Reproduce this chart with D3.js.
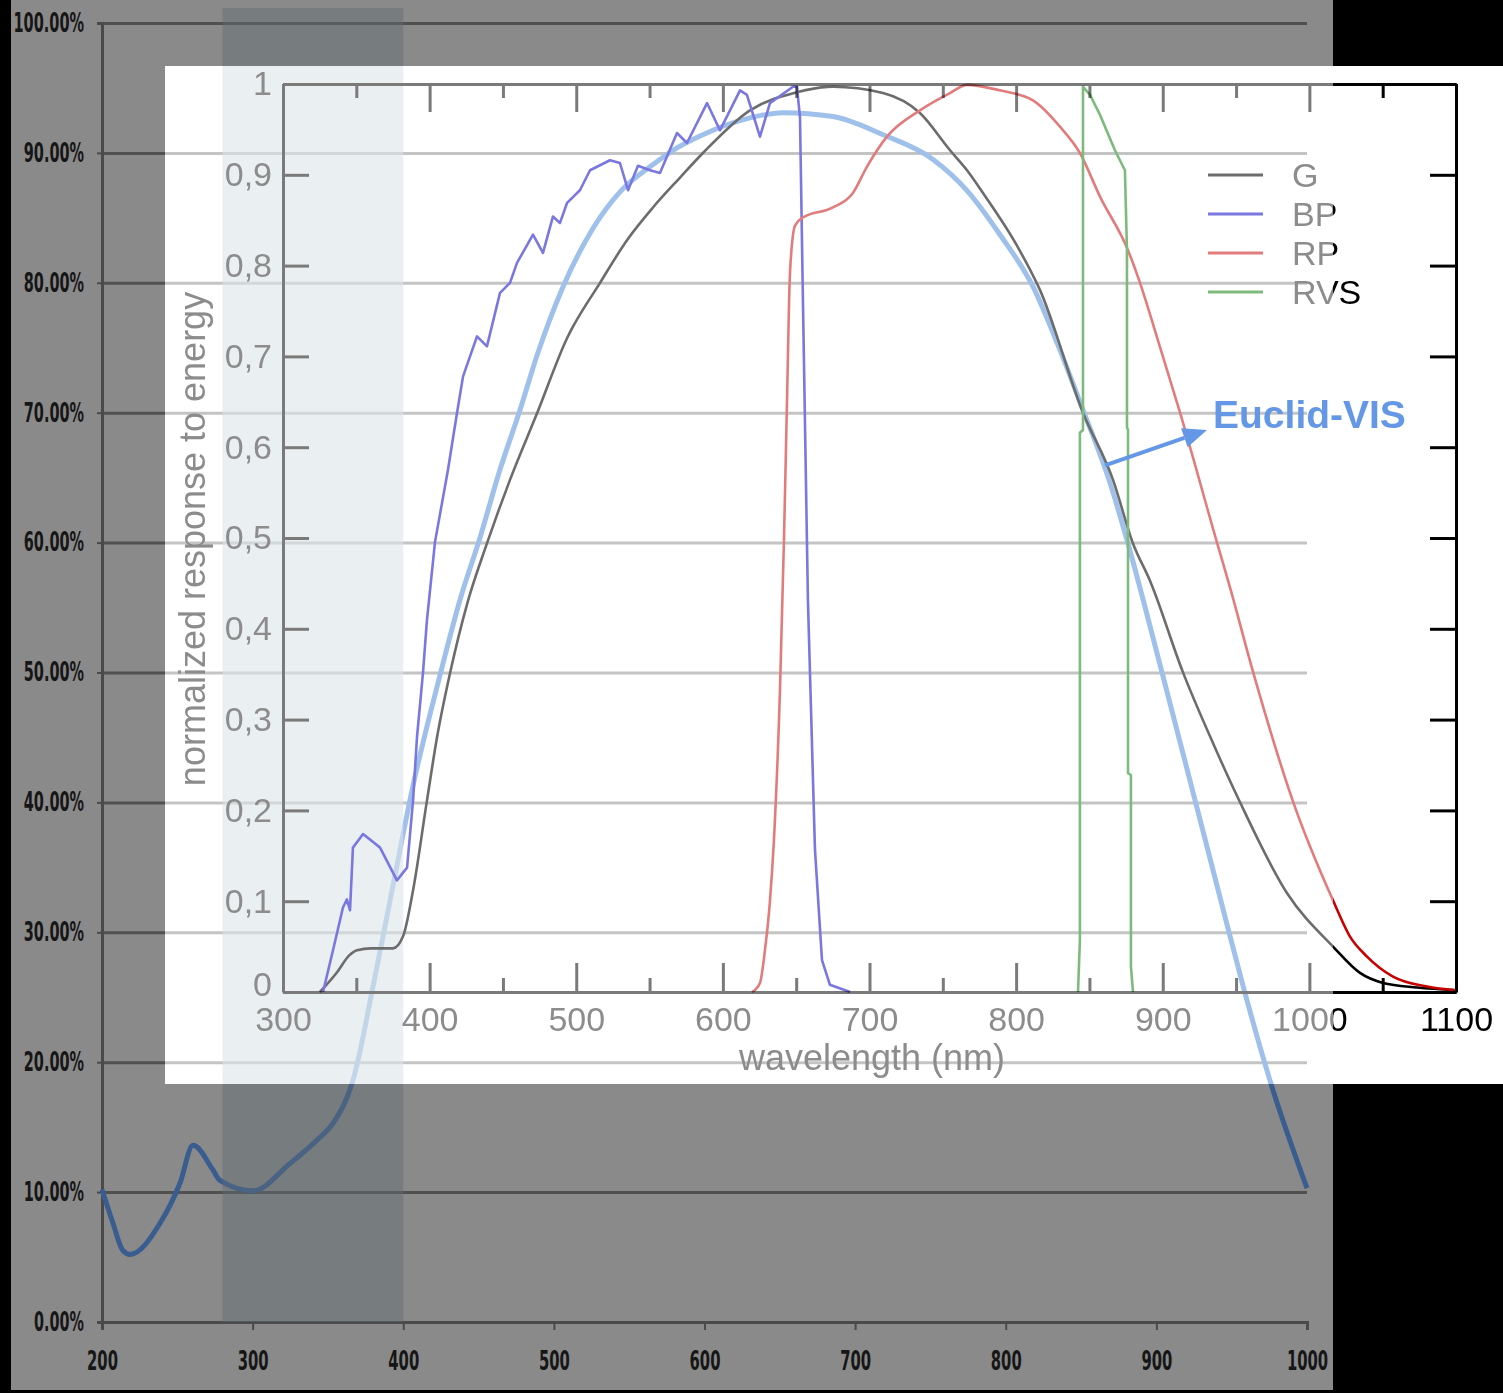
<!DOCTYPE html>
<html>
<head>
<meta charset="utf-8">
<script src="https://cdn.jsdelivr.net/npm/d3@7"></script>
<style>
  html, body { margin: 0; padding: 0; background: #000; }
  svg { display: block; }
</style>
</head>
<body>
<script>
// ---- data ----
// background chart: Euclid VIS response (%), 200-1000 nm
var euclidNm = [200, 207.3, 213.9, 218.6, 238.5, 251.8, 260.4, 273.7, 278.3, 300.2, 324.8, 342.7, 353.4, 362.7, 366.6, 379.9, 393.2, 406.5, 424.4, 437.7, 451, 464.2, 477.5, 488.8, 506.1, 526, 543.9, 565.8, 579.1, 597, 630.2, 652.1, 685.3, 718.5, 751.7, 774.3, 796.2, 818.1, 834.7, 851.3, 869.2, 880.5, 902.4, 925.6, 946.9, 957.5, 975.4, 1000];
var euclidQE = [10.2, 7.6, 5.5, 5.2, 7.6, 10.7, 13.6, 11.7, 10.9, 10.1, 12.2, 14.0, 15.3, 17.3, 18.6, 25.8, 33.6, 41.3, 49.8, 55.6, 60.4, 65.6, 70.2, 74.4, 79.7, 84.2, 87.0, 89.1, 90.2, 91.3, 92.7, 93.1, 92.8, 91.4, 89.5, 87.1, 83.7, 79.7, 75.2, 70.2, 64.6, 60.2, 50.6, 40.2, 30.6, 25.9, 18.6, 10.3];
var bandRange = [280, 400];
var outerXTicks = [200, 300, 400, 500, 600, 700, 800, 900, 1000];
var outerYTicks = [0, 10, 20, 30, 40, 50, 60, 70, 80, 90, 100];

// inset chart: Gaia passbands (normalized response to energy)
var gNm = [325.2, 337, 345, 350.5, 360, 375, 381.8, 388.7, 398.2, 405, 413.9, 425.5, 439.1, 454.8, 473.2, 493.7, 516.2, 534.6, 552.3, 570.8, 586.4, 618.5, 650.5, 675.1, 709.2, 734.4, 754.9, 766.5, 777.4, 800.6, 816.3, 845.6, 866.1, 879.7, 891.3, 913.8, 934.3, 952.7, 984.7, 1016.1, 1034.5, 1050.2, 1073.4, 1100];
var gVal = [0, 0.022, 0.04, 0.046, 0.048, 0.048, 0.061, 0.112, 0.211, 0.28, 0.351, 0.427, 0.494, 0.564, 0.637, 0.72, 0.781, 0.828, 0.864, 0.897, 0.924, 0.971, 0.991, 0.997, 0.99, 0.968, 0.927, 0.905, 0.88, 0.822, 0.773, 0.638, 0.564, 0.494, 0.453, 0.352, 0.274, 0.209, 0.109, 0.05, 0.021, 0.01, 0.005, 0.002];
var bpNm = [327.3, 334.1, 340.9, 343.6, 345.7, 347.7, 354.6, 366.2, 377.7, 384.6, 388.7, 391.4, 395.5, 398.2, 403.7, 412.5, 418.7, 422.8, 432.3, 439.1, 448, 454.8, 459.6, 470.5, 477.3, 484.1, 488.9, 493.7, 502.5, 509.4, 523, 529.8, 535.3, 542.1, 550.3, 557.1, 568.7, 575.5, 589.2, 598, 611.7, 616.4, 625.3, 632.1, 647.8, 650.5, 652.6, 654.6, 658, 662.8, 667.6, 673, 686.7];
var bpVal = [0, 0.046, 0.093, 0.102, 0.09, 0.159, 0.174, 0.159, 0.123, 0.137, 0.211, 0.281, 0.352, 0.41, 0.496, 0.575, 0.638, 0.678, 0.722, 0.711, 0.77, 0.781, 0.803, 0.834, 0.814, 0.854, 0.847, 0.869, 0.883, 0.905, 0.916, 0.913, 0.883, 0.91, 0.905, 0.902, 0.946, 0.935, 0.979, 0.949, 0.993, 0.988, 0.942, 0.979, 0.997, 0.997, 0.963, 0.762, 0.432, 0.157, 0.035, 0.008, 0];
var rpNm = [619.9, 625.3, 628.7, 632.1, 635.5, 638.9, 641.7, 643.7, 645.8, 649.2, 654.6, 675.1, 688.7, 698.3, 711.9, 734.4, 754.9, 766.5, 789, 811.5, 829.9, 843.5, 857.2, 876.3, 884.5, 896.1, 911.8, 937, 945.8, 961.5, 988.8, 1016.1, 1027.7, 1039.3, 1057, 1080.2, 1100];
var rpVal = [0, 0.01, 0.046, 0.1, 0.189, 0.33, 0.5, 0.648, 0.793, 0.844, 0.853, 0.864, 0.88, 0.909, 0.942, 0.971, 0.99, 0.999, 0.993, 0.982, 0.953, 0.924, 0.876, 0.817, 0.781, 0.721, 0.638, 0.495, 0.446, 0.353, 0.21, 0.101, 0.061, 0.039, 0.017, 0.006, 0.002];
var rvsNm = [842.2, 843.5, 843.5, 843.5, 845.6, 845.6, 850.4, 857.2, 867.4, 874.2, 875.6, 875.6, 876.3, 876.3, 878.3, 878.3, 879.7];
var rvsVal = [0, 0.057, 0.12, 0.616, 0.619, 0.997, 0.988, 0.966, 0.927, 0.905, 0.817, 0.622, 0.619, 0.241, 0.239, 0.028, 0];
var innerXTicks = [300, 400, 500, 600, 700, 800, 900, 1000, 1100];
var innerXMinor = [350, 450, 550, 650, 750, 850, 950, 1050];
var innerYTicks = [0, 0.1, 0.2, 0.3, 0.4, 0.5, 0.6, 0.7, 0.8, 0.9, 1];
var legendNames = ["G", "BP", "RP", "RVS"];
// annotation: arrow from curve to label, in inset coordinates
var arrowFrom = [860.6, 0.58], arrowTo = [930.2, 0.619];
var noteLabel = "Euclid-VIS";

var W = 1503, H = 1393;
var svg = d3.select("body").append("svg").attr("width", W).attr("height", H);
var defs = svg.append("defs");

function addClip(id, x, y, w, h) {
  defs.append("clipPath").attr("id", id).append("rect")
    .attr("x", x).attr("y", y).attr("width", w).attr("height", h);
}
var panel = {x: 165, y: 66, w: 1338, h: 1018};
var split = 1333;
addClip("panelClip", panel.x, panel.y, panel.w, panel.h);
addClip("leftClip", panel.x, panel.y, split - panel.x, panel.h);
addClip("rightClip", split, panel.y, W - split, panel.h);

svg.append("rect").attr("width", W).attr("height", H).attr("fill", "#000");
svg.append("rect").attr("x", 11).attr("y", 0).attr("width", split - 11).attr("height", 1390).attr("fill", "#8a8a8a");

// ---- background chart ----
var ox = d3.scaleLinear().domain([200, 1000]).range([102, 1307]);
var oy = d3.scaleLinear().domain([0, 100]).range([1322, 23]);
var euclid = euclidNm.map(function(n, i) { return [n, euclidQE[i]]; });
var euclidLine = d3.line()
  .x(function(d) { return ox(d[0]); })
  .y(function(d) { return oy(d[1]); })
  .curve(d3.curveMonotoneX);

function outerGrid(g, color) {
  var grid = g.append("g").attr("transform", "translate(" + ox(200) + ",0)")
    .call(d3.axisLeft(oy).tickValues(outerYTicks).tickSize(-(ox(1000) - ox(200))).tickFormat(""));
  grid.select(".domain").remove();
  grid.selectAll("line").attr("stroke", color).attr("stroke-width", 3);
}
function band(g, color, op) {
  g.append("rect").attr("x", ox(bandRange[0])).attr("width", ox(bandRange[1]) - ox(bandRange[0]))
    .attr("y", 8).attr("height", oy(0) - 8).attr("fill", color).attr("fill-opacity", op);
}

var outer = svg.append("g");
outerGrid(outer, "#505050");
var yAx = outer.append("g").attr("transform", "translate(" + ox(200) + ",0)")
  .call(d3.axisLeft(oy).tickValues(outerYTicks).tickSize(5).tickPadding(13)
    .tickFormat(function(d) { return d.toFixed(2) + "%"; }));
var xAx = outer.append("g").attr("transform", "translate(0," + oy(0) + ")")
  .call(d3.axisBottom(ox).tickValues(outerXTicks).tickSize(8).tickPadding(22).tickFormat(d3.format("d")));
[yAx, xAx].forEach(function(a) {
  a.attr("font-family", "'Liberation Sans Narrow', 'DejaVu Sans Condensed', 'Liberation Sans', sans-serif")
   .attr("font-size", 26).attr("font-weight", "bold");
  a.selectAll("line").attr("stroke", "#4a4a4a").attr("stroke-width", 2);
  a.select(".domain").attr("stroke", "#4a4a4a").attr("stroke-width", 3);
  a.selectAll("text").attr("fill", "#161616").attr("lengthAdjust", "spacingAndGlyphs")
    .attr("textLength", function() {
      var s = this.textContent, w = 0;
      for (var k = 0; k < s.length; k++) w += s[k] === "." ? 5 : (s[k] === "%" ? 14 : 10.3);
      return w;
    });
});
outer.append("path").datum(euclid).attr("d", euclidLine)
  .attr("fill", "none").attr("stroke", "#3a5d90").attr("stroke-width", 5);
band(outer, "#5f6a70", 0.45);

// ---- inset panel ----
svg.append("rect").attr("x", panel.x).attr("y", panel.y).attr("width", panel.w).attr("height", panel.h).attr("fill", "#fff");
var faded = svg.append("g").attr("clip-path", "url(#panelClip)");
outerGrid(faded, "#c4c4c4");
faded.append("path").datum(euclid).attr("d", euclidLine)
  .attr("fill", "none").attr("stroke", "#9ec0ea").attr("stroke-width", 5);
band(faded, "#dce4e8", 0.6);

var ix = d3.scaleLinear().domain([300, 1100]).range([283, 1456]);
var iy = d3.scaleLinear().domain([0, 1]).range([992, 84]);

function pairs(xs, ys) { return xs.map(function(n, i) { return [n, ys[i]]; }); }
var series = [
  {name: "G", data: pairs(gNm, gVal), key: "g", curve: d3.curveMonotoneX},
  {name: "BP", data: pairs(bpNm, bpVal), key: "bp", curve: d3.curveLinear},
  {name: "RP", data: pairs(rpNm, rpVal), key: "rp", curve: d3.curveMonotoneX},
  {name: "RVS", data: pairs(rvsNm, rvsVal), key: "rvs", curve: d3.curveLinear}
];

function drawGaia(g, pal) {
  var font = "'Liberation Sans', Arial, Helvetica, sans-serif";
  function style(a) {
    a.attr("font-family", font).attr("font-size", 34);
    a.select(".domain").attr("stroke", pal.axis).attr("stroke-width", 3);
    a.selectAll("line").attr("stroke", pal.axis).attr("stroke-width", 3);
    a.selectAll("text").attr("fill", pal.text);
  }
  var comma = function(d) { return d === 0 ? "0" : (d === 1 ? "1" : d.toFixed(1).replace(".", ",")); };

  style(g.append("g").attr("transform", "translate(0," + iy(0) + ")")
    .call(d3.axisBottom(ix).tickValues(innerXTicks).tickSize(-29).tickSizeOuter(0).tickPadding(15).tickFormat(d3.format("d"))));
  style(g.append("g").attr("transform", "translate(0," + iy(0) + ")")
    .call(d3.axisBottom(ix).tickValues(innerXMinor).tickSize(-14).tickSizeOuter(0).tickFormat("")));
  style(g.append("g").attr("transform", "translate(0," + iy(1) + ")")
    .call(d3.axisTop(ix).tickValues(innerXTicks).tickSize(-28).tickSizeOuter(0).tickFormat("")));
  style(g.append("g").attr("transform", "translate(0," + iy(1) + ")")
    .call(d3.axisTop(ix).tickValues(innerXMinor).tickSize(-14).tickSizeOuter(0).tickFormat("")));
  var left = g.append("g").attr("transform", "translate(" + ix(300) + ",0)")
    .call(d3.axisLeft(iy).tickValues(innerYTicks).tickSize(-26).tickSizeOuter(0).tickPadding(11).tickFormat(comma));
  style(left);
  left.selectAll("text").filter(function(d) { return d === 0; }).attr("dy", "0.1em");
  style(g.append("g").attr("transform", "translate(" + ix(1100) + ",0)")
    .call(d3.axisRight(iy).tickValues(innerYTicks).tickSize(-26).tickSizeOuter(0).tickFormat("")));

  g.append("text").attr("x", 872).attr("y", 1070)
    .attr("text-anchor", "middle").attr("font-family", font).attr("font-size", 36)
    .attr("fill", pal.text).text("wavelength (nm)");
  g.append("text").attr("transform", "translate(205," + (iy(0.5) + 1) + ") rotate(-90)")
    .attr("text-anchor", "middle").attr("font-family", font).attr("font-size", 36)
    .attr("fill", pal.text).text("normalized response to energy");

  var curves = g.append("g").style("mix-blend-mode", "multiply");
  curves.selectAll("path").data(series).join("path")
    .attr("d", function(d) {
      return d3.line().x(function(p) { return ix(p[0]); }).y(function(p) { return iy(p[1]); }).curve(d.curve)(d.data);
    })
    .attr("fill", "none").attr("stroke", function(d) { return pal[d.key]; })
    .attr("stroke-width", 2.6).attr("stroke-linejoin", "round");

  var leg = g.append("g").selectAll("g").data(legendNames).join("g")
    .attr("transform", function(d, i) { return "translate(1208," + (175 + i * 39) + ")"; });
  leg.append("line").attr("x1", 0).attr("x2", 55)
    .attr("stroke", function(d, i) { return pal[series[i].key]; }).attr("stroke-width", 3);
  leg.append("text").attr("x", 84).attr("y", 12).attr("font-family", font).attr("font-size", 34)
    .attr("fill", pal.text).text(function(d) { return d; });
}

drawGaia(svg.append("g").attr("clip-path", "url(#leftClip)"),
  {axis: "#7a7a7a", text: "#8c8c8c", g: "#6c6c6c", bp: "#7a77e0", rp: "#e27c7c", rvs: "#7dbb7d"});
drawGaia(svg.append("g").attr("clip-path", "url(#rightClip)"),
  {axis: "#000", text: "#000", g: "#000", bp: "#000080", rp: "#c80000", rvs: "#006400"});

// ---- annotation ----
var ann = svg.append("g");
var p0 = [ix(arrowFrom[0]), iy(arrowFrom[1])], p1 = [ix(arrowTo[0]), iy(arrowTo[1])];
var dx = p1[0] - p0[0], dy = p1[1] - p0[1], len = Math.sqrt(dx * dx + dy * dy);
var ux = dx / len, uy = dy / len, hl = 24, hw = 10;
var base = [p1[0] - ux * hl, p1[1] - uy * hl];
ann.append("line").attr("x1", p0[0]).attr("y1", p0[1]).attr("x2", base[0]).attr("y2", base[1])
  .attr("stroke", "#6497e6").attr("stroke-width", 4);
ann.append("path").attr("fill", "#6497e6")
  .attr("d", "M" + p1[0] + "," + p1[1] +
    "L" + (base[0] - uy * hw) + "," + (base[1] + ux * hw) +
    "L" + (base[0] + uy * hw) + "," + (base[1] - ux * hw) + "Z");
ann.append("text").attr("x", ix(arrowTo[0]) + 6).attr("y", 428)
  .attr("font-family", "'Liberation Sans', Arial, sans-serif").attr("font-weight", "bold")
  .attr("font-size", 39).attr("fill", "#6497e6").text(noteLabel);
</script>
</body>
</html>
